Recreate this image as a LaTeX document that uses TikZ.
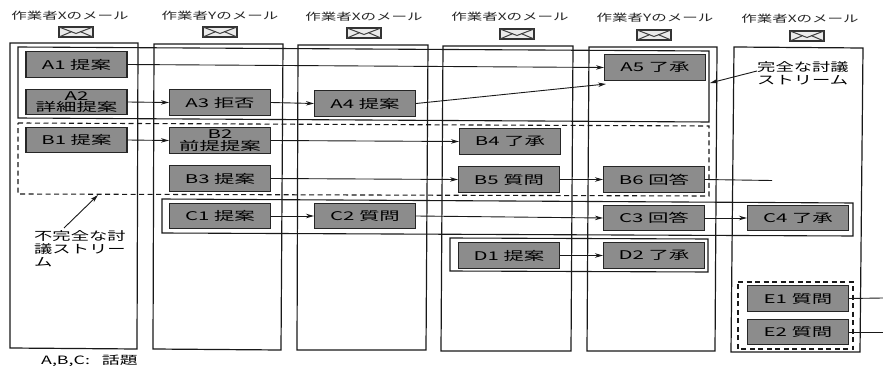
\documentclass[tikz,border=0pt]{standalone}
\usepackage{fontspec}
\setmainfont{Noto Sans CJK JP}
\newfontfamily\widea[FakeStretch=1.7]{Noto Sans CJK JP}
\newfontfamily\wideb[FakeStretch=1.55]{Noto Sans CJK JP}
\usetikzlibrary{arrows.meta}
\tikzset{
  lane/.style={draw=black!90,line width=1.2pt},
  solidgroup/.style={draw=black!90,line width=1.1pt},
  dashgroup/.style={draw=black!90,line width=1.1pt,dash pattern=on 5pt off 3.5pt},
  msg/.style={draw=black!85,fill=black!45,line width=1.1pt,minimum width=101pt,minimum height=25.5pt,inner sep=0pt,align=center,text=black,font=\widea\fontsize{12}{11.5}\selectfont},
  hdr/.style={inner sep=0pt,text=black!85,font=\wideb\fontsize{10}{10}\selectfont},
  note/.style={inner sep=0pt,align=left,text=black,font=\wideb\fontsize{11.8}{13}\selectfont},
  link/.style={draw=black!90,line width=0.9pt,-{Stealth[length=8pt,width=4.5pt]}},
  plain/.style={draw=black!90,line width=0.9pt},
  envlp/.pic={
    \draw[black!80,fill=black!8,line width=1.3pt] (-17,-5) rectangle (17,5);
    \draw[black!75,line width=1pt] (-17,-5) -- (0,1.5) -- (17,-5) (-17,5) -- (-4,-0.5) (17,5) -- (4,-0.5);
  }
}
\begin{document}
\begin{tikzpicture}[x=1pt,y=-1pt]
\useasboundingbox (0,0) rectangle (883,366);
% lanes
\draw[lane] (10,43) -- (138,43) -- (137,349) -- (10,348) -- cycle;
\draw[lane] (154,44) -- (283,44) -- (281,350) -- (153,349) -- cycle;
\draw[lane] (298,45) -- (428,45) -- (426,350) -- (297,350) -- cycle;
\draw[lane] (443,46) -- (573,46) -- (571,351) -- (441,351) -- cycle;
\draw[lane] (589,47) -- (717,47) -- (715,351) -- (587,351) -- cycle;
\draw[lane] (734,47) -- (863,48) -- (860,352) -- (731,352) -- cycle;
% headers
\node[hdr] (h1) at (70,16) {作業者Xのメール};
\node[hdr] (h2) at (220,16) {作業者Yのメール};
\node[hdr] (h3) at (364,17) {作業者Xのメール};
\node[hdr] (h4) at (510,17) {作業者Xのメール};
\node[hdr] (h5) at (655,18) {作業者Yのメール};
\node[hdr] (h6) at (800,19) {作業者Xのメール};
\pic at (76,32) {envlp};
\pic at (220,32) {envlp};
\pic at (364,33) {envlp};
\pic at (517,34) {envlp};
\pic at (654,35) {envlp};
\pic at (807,36) {envlp};
% groups
\draw[solidgroup] (18,47) -- (709,51) -- (709,122) -- (18,118) -- cycle;
\draw[dashgroup] (18,123) -- (709,126) -- (709,196) -- (18,194) -- cycle;
\draw[solidgroup] (162,199) -- (853,203) -- (853,236) -- (162,233) -- cycle;
\draw[solidgroup] (450,238) -- (708,239) -- (708,272) -- (450,271) -- cycle;
\draw[dashgroup] (738,282) -- (853,282) -- (853,349) -- (738,349) -- cycle;
% messages
\node[msg] (a1) at (76.5,64.5) {A1\ 提案};
\node[msg] (a2) at (76.5,102) {A2\\詳細提案};
\node[msg] (a3) at (220,102.5) {A3\ 拒否};
\node[msg] (a4) at (365,103.5) {A4\ 提案};
\node[msg] (a5) at (655,67.5) {A5\ 了承};
\node[msg] (b1) at (76.5,140) {B1\ 提案};
\node[msg] (b2) at (220,140.5) {B2\\前提提案};
\node[msg] (b3) at (220,178.5) {B3\ 提案};
\node[msg] (b4) at (510,141.5) {B4\ 了承};
\node[msg] (b5) at (509,179.5) {B5\ 質問};
\node[msg] (b6) at (654,179.5) {B6\ 回答};
\node[msg] (c1) at (220,216) {C1\ 提案};
\node[msg] (c2) at (365,216) {C2\ 質問};
\node[msg] (c3) at (654,218) {C3\ 回答};
\node[msg] (c4) at (798,218) {C4\ 了承};
\node[msg] (d1) at (509,255.5) {D1\ 提案};
\node[msg] (d2) at (654,255.5) {D2\ 了承};
\node[msg] (e1) at (798,298.5) {E1\ 質問};
\node[msg] (e2) at (798,332) {E2\ 質問};
% notes
\node[note,anchor=north west] (n1) at (34,230) {不完全な討\\議ストリー\\ム};
\node[note,anchor=north west] (n2) at (757,61) {完全な討議\\ストリーム};
\node[note,anchor=west,font=\wideb\fontsize{11.5}{12}\selectfont] (n3) at (41,361) {A,B,C:\ \ \ 話題};
% free ends
\coordinate (fa) at (606,84);
\coordinate (fb) at (772,180.5);
\coordinate (fe1) at (883,298);
\coordinate (fe2) at (883,332);
\coordinate (fn1) at (98,195);
\coordinate (fn1s) at (64,228);
\coordinate (fn2) at (710,83);
\coordinate (fn2s) at (757,71);
% connectors
\draw[link] (a1.east) -- (a5.west);
\draw[link] (a2.east) -- (a3.west);
\draw[link] (a3.east) -- (a4.west);
\draw[link] (a4.east) -- (fa);
\draw[link] (b1.east) -- (b2.west);
\draw[link] (b2.east) -- (b4.west);
\draw[link] (b3.east) -- (b5.west);
\draw[link] (b5.east) -- (b6.west);
\draw[plain] (b6.east) -- (fb);
\draw[link] (c1.east) -- (c2.west);
\draw[link] (c2.east) -- (c3.west);
\draw[link] (c3.east) -- (c4.west);
\draw[link] (d1.east) -- (d2.west);
\draw[plain] (e1.east) -- (fe1);
\draw[plain] (e2.east) -- (fe2);
\draw[link] (fn1s) -- (fn1);
\draw[link] (fn2s) -- (fn2);
\end{tikzpicture}
\end{document}
